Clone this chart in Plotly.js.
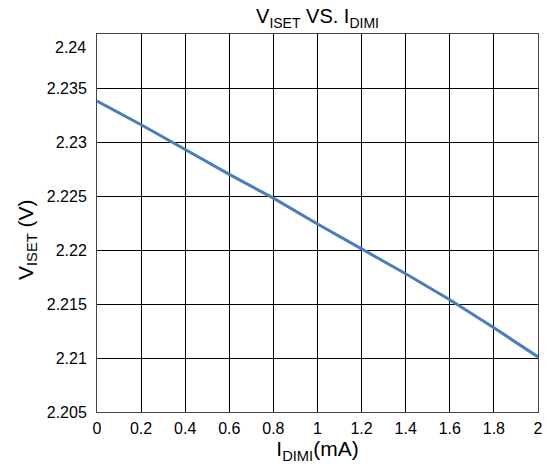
<!DOCTYPE html>
<html>
<head>
<meta charset="utf-8">
<script src="https://cdn.plot.ly/plotly-3.0.1.min.js"></script>
<style>html,body{margin:0;padding:0;background:#fff;}#chart{width:554px;height:467px;}</style>
</head>
<body>
<div id="chart"></div>
<script>
const currentMA = [0, 0.2, 0.4, 0.6, 0.8, 1.0, 1.2, 1.4, 1.6, 1.8, 2.0];
const vIset = [2.2338, 2.2316, 2.2293, 2.2270, 2.2248, 2.2224, 2.2201, 2.2178, 2.2154, 2.2128, 2.2101];
const xTicks = [0, 0.2, 0.4, 0.6, 0.8, 1, 1.2, 1.4, 1.6, 1.8, 2];
const xTickText = ["0", "0.2", "0.4", "0.6", "0.8", "1", "1.2", "1.4", "1.6", "1.8", "2"];
const yTicks = [2.205, 2.21, 2.215, 2.22, 2.225, 2.23, 2.235, 2.24];
const yTickText = ["2.205", "2.21", "2.215", "2.22", "2.225", "2.23", "2.235", ""];
const topLabel = "2.24";
const yTitle = "V<sub>ISET</sub> (V)";

const font = {family: "Liberation Sans, Arial, sans-serif", color: "#000"};
const f = s => Object.assign({size: s}, font);

Plotly.newPlot("chart", [{
  x: currentMA, y: vIset, type: "scatter", mode: "lines",
  line: {color: "#4a7ebb", width: 3}, hoverinfo: "skip"
}], {
  width: 554, height: 467,
  margin: {l: 97, r: 16, t: 34, b: 55, pad: 0},
  paper_bgcolor: "#fff", plot_bgcolor: "#fff",
  showlegend: false,
  font: f(16),
  title: {text: "V<sub>ISET</sub> VS. I<sub>DIMI</sub>", font: f(20),
          xref: "paper", x: 0.5, xanchor: "center", y: 0.965, yanchor: "middle"},
  xaxis: {
    range: [0, 2], tickvals: xTicks, ticktext: xTickText,
    showgrid: true, gridcolor: "#000", gridwidth: 1,
    showline: true, linecolor: "#444", linewidth: 1, mirror: true,
    zeroline: false, ticks: "outside", ticklen: 2, tickcolor: "rgba(0,0,0,0)",
    tickfont: f(16),
    title: {text: "I<sub>DIMI</sub>(mA)", font: f(21), standoff: 4}
  },
  yaxis: {
    range: [2.205, 2.24], tickvals: yTicks, ticktext: yTickText,
    showgrid: true, gridcolor: "#000", gridwidth: 1,
    showline: true, linecolor: "#444", linewidth: 1, mirror: true,
    zeroline: false, ticks: "outside", ticklen: 6, tickcolor: "rgba(0,0,0,0)",
    tickfont: f(16)
  },
  annotations: [{
    xref: "paper", yref: "y", x: 0, y: 2.24, xanchor: "right", yanchor: "middle",
    xshift: -9, yshift: -13, showarrow: false, text: topLabel, font: f(16)
  }, {
    xref: "paper", yref: "paper", x: 0, y: 0.455, xanchor: "center", yanchor: "middle",
    xshift: -70, textangle: -90, showarrow: false, text: yTitle, font: f(21)
  }]
}, {displayModeBar: false, staticPlot: true});
</script>
</body>
</html>
